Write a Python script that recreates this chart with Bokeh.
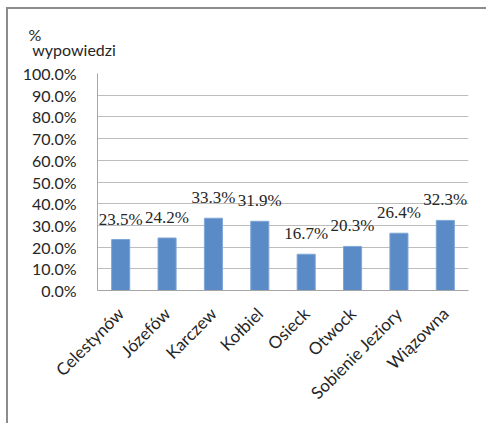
from bokeh.plotting import figure
from bokeh.models import ColumnDataSource, LabelSet, Title, FixedTicker, PrintfTickFormatter, FactorRange, Range1d
from bokeh.embed import file_html
from bokeh.resources import INLINE
import math

categories = ["Celestynów", "Józefów", "Karczew", "Kołbiel", "Osieck", "Otwock", "Sobienie Jeziory", "Wiązowna"]
values = [23.5, 24.2, 33.3, 31.9, 16.7, 20.3, 26.4, 32.3]
y_ticks = [0, 10, 20, 30, 40, 50, 60, 70, 80, 90, 100]
y_title_line1 = "%"
y_title_line2 = "wypowiedzi"

FONT = "Lato"
TXT = "#262626"

src = ColumnDataSource(dict(cat=categories, val=values,
                            lab=["%.1f%%" % v for v in values]))

W, H = 480, 416
ML, MR, MT, MB = 89, 20, 61, 135

p = figure(width=W, height=H, x_range=FactorRange(*categories, range_padding=0),
           y_range=Range1d(0, 100), output_backend="svg", toolbar_location=None,
           min_border_left=ML, min_border_right=MR, min_border_top=MT, min_border_bottom=MB)
p.styles = {"border-left": "2px solid #8C8C8C", "border-top": "2px solid #8C8C8C",
            "margin-left": "6px", "margin-top": "7px"}
p.outline_line_color = None
p.background_fill_color = "white"
p.border_fill_color = "white"

p.vbar(x="cat", top="val", width=0.39, source=src, fill_color="#5B8BC7", line_color="#7FA6D6", line_width=1)

p.xgrid.visible = False
p.ygrid.grid_line_color = "#BDBDBD"
p.ygrid.grid_line_width = 1

p.yaxis.ticker = FixedTicker(ticks=y_ticks)
p.yaxis.formatter = PrintfTickFormatter(format="%.1f%%")
p.yaxis.major_tick_line_color = None
p.yaxis.minor_tick_line_color = None
p.yaxis.axis_line_color = "#A6A6A6"
p.yaxis.major_label_standoff = 15
p.yaxis.major_label_text_font = FONT
p.yaxis.major_label_text_font_size = "16px"
p.yaxis.major_label_text_color = TXT

p.xaxis.major_tick_line_color = None
p.xaxis.minor_tick_line_color = None
p.xaxis.axis_line_color = "#A6A6A6"
p.xaxis.major_label_orientation = math.pi / 4
p.xaxis.major_label_standoff = 14
p.xaxis.major_label_text_font = FONT
p.xaxis.major_label_text_font_size = "17px"
p.xaxis.major_label_text_color = TXT

labels = LabelSet(x="cat", y="val", text="lab", source=src, text_align="center",
                  text_baseline="alphabetic", y_offset=15, text_font=FONT,
                  text_font_size="17px", text_color=TXT)
p.add_layout(labels)

# y-axis title, two lines, above the plot's left edge
p.add_layout(Title(text=y_title_line1 + "\n\u00a0" + y_title_line2, align="left", offset=-69,
                   standoff=28, text_line_height=0.8,
                   text_font=FONT, text_font_size="16px", text_font_style="normal",
                   text_color=TXT), "above")

open("out.html", "w").write(file_html(p, INLINE))
